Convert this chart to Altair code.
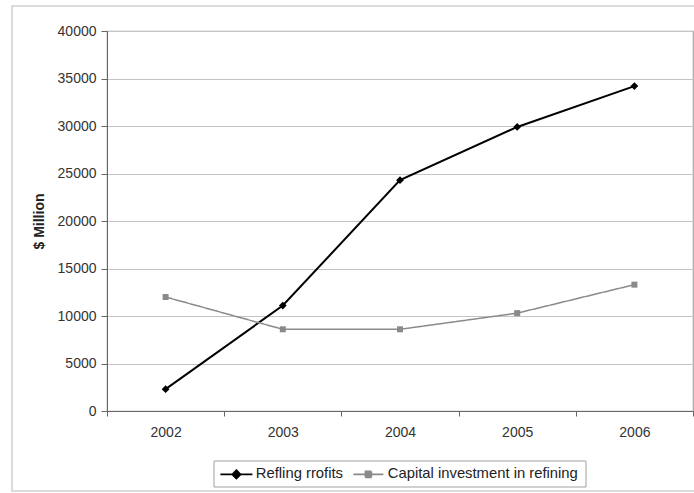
import altair as alt
import pandas as pd

years = ["2002", "2003", "2004", "2005", "2006"]
refining_profits = [2300, 11100, 24300, 29900, 34200]
capital_investment = [12000, 8600, 8600, 10300, 13300]
series_names = ["Refling rrofits", "Capital investment in refining"]
y_ticks = [0, 5000, 10000, 15000, 20000, 25000, 30000, 35000, 40000]

prof_df = pd.DataFrame({"year": years, "value": refining_profits, "series_a": series_names[0]})
cap_df = pd.DataFrame({"year": years, "value": capital_investment, "series_b": series_names[1]})

FONT = "Liberation Sans"
BLACK = "#000000"
GRAY = "#8a8a8a"

x_enc = alt.X(
    "year:O",
    sort=years,
    scale=alt.Scale(domain=years, paddingInner=0, paddingOuter=0),
    axis=alt.Axis(
        title=None, labelAngle=0, tickBand="extent", grid=False,
        domainColor="#666", tickColor="#666", tickSize=5, labelPadding=9,
        labelFontSize=14, labelColor="#333", labelFont=FONT,
    ),
)
y_enc = alt.Y(
    "value:Q",
    scale=alt.Scale(domain=[0, 40000], nice=False),
    axis=alt.Axis(
        title="$ Million", values=y_ticks, format="d",
        titleFont=FONT, titleFontSize=14, titleFontWeight="bold", titleColor="#222",
        titlePadding=11,
        labelFont=FONT, labelFontSize=14, labelColor="#333", labelPadding=5,
        tickSize=6, tickColor="#666", domainColor="#666",
        gridColor="#c4c4c4", gridWidth=1.2,
    ),
)

one = alt.Data(values=[{}])
frame = alt.Chart(one).mark_rect(
    fillOpacity=0, stroke="#cfcfcf", strokeWidth=1.5
).encode(x=alt.value(-95), x2=alt.value(600), y=alt.value(-25), y2=alt.value(460))

legend_box = alt.Chart(one).mark_rect(
    fillOpacity=0, stroke="#a0a0a0", strokeWidth=1
).encode(x=alt.value(107), x2=alt.value(479), y=alt.value(430), y2=alt.value(456))

DIAMOND_PATH = "M-3.2,0L3.2,0M0,-0.85L0.85,0L0,0.85L-0.85,0Z"
SQUARE_PATH = "M-3.0,0L3.0,0M-0.6,-0.6L0.6,-0.6L0.6,0.6L-0.6,0.6Z"

def make_legend(path, color, lx, loff):
    return alt.Legend(
        orient="none", legendX=lx, legendY=436, title=None, padding=0,
        labelFont=FONT, labelFontSize=14.8, labelColor="#222", labelLimit=400,
        symbolType=path, symbolSize=100, symbolStrokeWidth=1.6,
        symbolFillColor=color, symbolStrokeColor=color,
        symbolOffset=0, labelOffset=loff,
    )

line_p = alt.Chart(prof_df).mark_line(color=BLACK, strokeWidth=2).encode(
    x=x_enc, y=y_enc,
    opacity=alt.Opacity(
        "series_a:N", scale=alt.Scale(domain=[series_names[0]], range=[1]),
        legend=make_legend(DIAMOND_PATH, BLACK, 122, 12),
    ),
)
pts_p = alt.Chart(prof_df).mark_point(
    filled=True, color=BLACK, shape="diamond", size=60, opacity=1
).encode(x=x_enc, y=y_enc)

line_c = alt.Chart(cap_df).mark_line(color=GRAY, strokeWidth=1.5).encode(
    x=x_enc, y=y_enc,
    strokeDash=alt.StrokeDash(
        "series_b:N", scale=alt.Scale(domain=[series_names[1]], range=[[1, 0]]),
        legend=make_legend(SQUARE_PATH, GRAY, 254, 12),
    ),
)
pts_c = alt.Chart(cap_df).mark_point(
    filled=True, color=GRAY, shape="square", size=36, opacity=1
).encode(x=x_enc, y=y_enc)

chart = alt.layer(frame, legend_box, line_p, line_c, pts_c, pts_p).properties(
    width=586, height=380,
    autosize=alt.AutoSizeParams(type="none"),
    padding={"left": 107, "top": 31, "right": 1, "bottom": 82},
    background="white",
).configure_view(stroke="#a6a6a6", strokeWidth=1.2)

chart.save("out.html", embed_options={"renderer": "svg", "actions": False})
